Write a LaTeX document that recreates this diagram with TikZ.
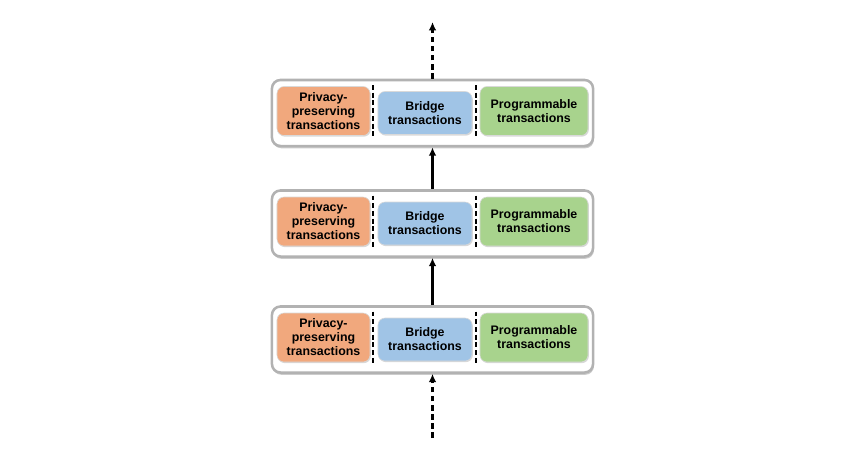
\documentclass[tikz,border=0pt]{standalone}
\usepackage{fontspec}
\setmainfont{Liberation Sans}
\usetikzlibrary{shadows,arrows.meta}

\definecolor{privfill}{RGB}{241,168,125}
\definecolor{bridgefill}{RGB}{160,196,230}
\definecolor{progfill}{RGB}{168,211,141}

\tikzset{
  layer/.style={draw=black!30, line width=1.8pt, fill=white, rounded corners=6pt,
    minimum width=8.025cm, minimum height=1.65cm,
    drop shadow={shadow xshift=0.6pt, shadow yshift=-1.6pt, fill=black!40}},
  txbox/.style={rounded corners=5pt, align=center, font=\bfseries\fontsize{8.8}{10}\selectfont,
    draw=black!15, drop shadow={shadow xshift=0.6pt, shadow yshift=-0.8pt, opacity=0.3}},
  sep/.style={line width=1.5pt, dash pattern=on 3.5pt off 2pt},
  link/.style={line width=2pt, -{Latex[length=6pt,width=5.5pt]}}
}

\begin{document}
\begin{tikzpicture}[x=0.025cm, y=-0.025cm]
\useasboundingbox (0,0) rectangle (860,450);

\foreach \i/\y in {1/113, 2/223.5, 3/339.5} {
  \node[layer] (layer\i) at (432.5,\y) {};
  \node[txbox, fill=privfill, minimum width=2.325cm, minimum height=1.225cm] (priv\i) at (323.5,\y-2) {Privacy-\\preserving\\transactions};
  \node[txbox, fill=bridgefill, minimum width=2.35cm, minimum height=1.075cm] (bridge\i) at (425,\y) {Bridge\\transactions};
  \node[txbox, fill=progfill, minimum width=2.7cm, minimum height=1.225cm] (prog\i) at (534,\y-2) {Programmable\\transactions};
  \draw[sep] (373,\y-28) -- (373,\y+25);
  \draw[sep] (476,\y-28) -- (476,\y+25);
}

\coordinate (top) at (432.5,22);
\coordinate (bottom) at (432.5,438);

\draw[link, dash pattern=on 4pt off 2.5pt] (layer1.north) -- (top);
\draw[link] (layer2.north) -- (layer1.south);
\draw[link] (layer3.north) -- (layer2.south);
\draw[link, dash pattern=on 4pt off 2.5pt] (bottom) -- (layer3.south);

\end{tikzpicture}
\end{document}
